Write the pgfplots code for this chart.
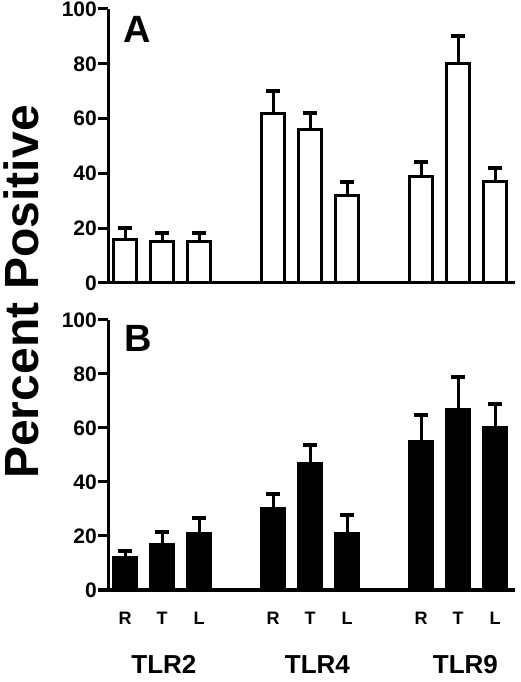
\documentclass[border=0pt]{standalone}
\usepackage{fontspec}
\setmainfont{Liberation Sans}
\usepackage{pgfplots}
\pgfplotsset{compat=1.18}

\pgfplotsset{
  panel/.style={
    scale only axis,
    width=407pt,
    xmin=-0.46, xmax=10.54,
    ymin=0, ymax=100,
    axis x line=bottom, axis y line=left,
    axis line style={-, line width=3pt},
    ytick={0,20,...,100},
    tick align=outside,
    major tick length=10pt,
    major tick style={line width=3pt, black},
    x tick style={draw=none},
    /pgf/number format/assume math mode=true,
    ticklabel style={font=\fontsize{21}{21}\selectfont\bfseries},
    yticklabel style={inner sep=1pt},
    clip=false,
  },
  tlrbar/.style={
    ybar, bar width=23pt, bar shift=0pt, draw=black, line width=3pt,
    error bars/y dir=plus, error bars/y explicit,
    error bars/error bar style={line width=3pt, black},
    error bars/error mark options={rotate=90, mark size=7pt, line width=4pt, black},
  },
}

\begin{document}
\begin{tikzpicture}[x=1pt,y=1pt]
\path[use as bounding box] (0,0) rectangle (520,682);

% panel A
\begin{axis}[panel, at={(108pt,399pt)}, anchor=south west,
  height=274pt, xtick=\empty]
  \addplot[fill=white, tlrbar] coordinates {
    (0,16) +- (0,4)   (1,15) +- (0,3.4)  (2,15) +- (0,3.4)
    (4,62) +- (0,8)   (5,56) +- (0,6)    (6,32) +- (0,5)
    (8,39) +- (0,5)   (9,80) +- (0,10)   (10,37) +- (0,5)
  };
  \node[anchor=north west, inner sep=0pt,
    font=\fontsize{38}{38}\selectfont\bfseries] at (axis cs:-0.06,97.5) {A};
\end{axis}

% panel B
\begin{axis}[panel, at={(108pt,92pt)}, anchor=south west,
  height=270pt,
  xtick={0,1,2,4,5,6,8,9,10},
  xticklabels={R,T,L,R,T,L,R,T,L},
  xticklabel style={font=\fontsize{18}{18}\selectfont\bfseries,
    anchor=base, yshift=-24pt}]
  \addplot[fill=black, tlrbar] coordinates {
    (0,12) +- (0,2.6)   (1,17) +- (0,4.5)  (2,21) +- (0,5.7)
    (4,30) +- (0,5.6)   (5,47) +- (0,6.8)  (6,21) +- (0,6.7)
    (8,55) +- (0,9.8)   (9,67) +- (0,11.8) (10,60) +- (0,8.8)
  };
  \node[anchor=north west, inner sep=0pt,
    font=\fontsize{38}{38}\selectfont\bfseries] at (axis cs:-0.02,98) {B};
  \begin{scope}[every node/.style={anchor=base, yshift=-83pt,
      font=\fontsize{26}{26}\selectfont\bfseries}]
    \node at (axis cs:1.05,0) {TLR2};
    \node at (axis cs:5.2,0) {TLR4};
    \node at (axis cs:9.2,0) {TLR9};
  \end{scope}
\end{axis}

\node[rotate=90, anchor=base, inner sep=0pt,
  font=\fontsize{48}{48}\selectfont\bfseries] at (38pt,390pt) {Percent Positive};
\end{tikzpicture}
\end{document}
